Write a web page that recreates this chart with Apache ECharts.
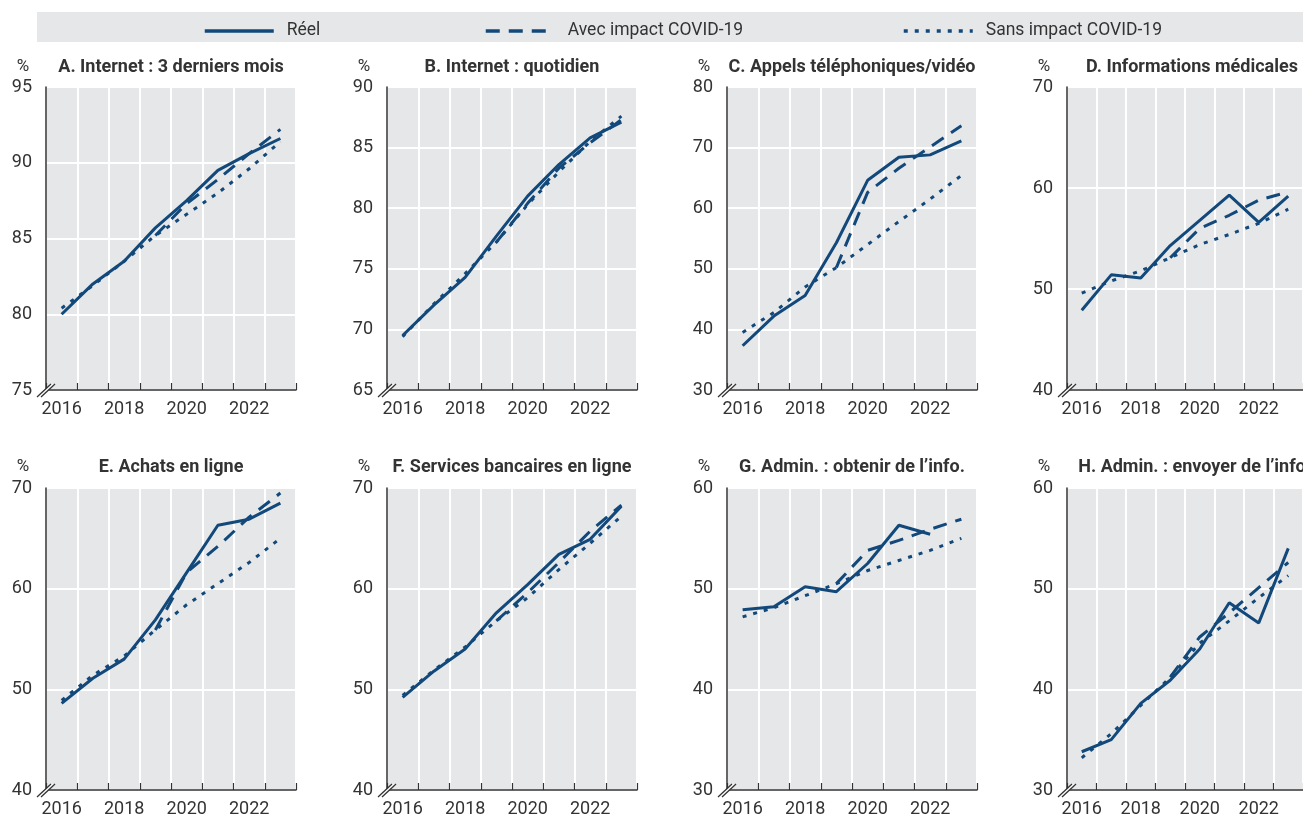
<!DOCTYPE html>
<html><head><meta charset="utf-8">
<script src="https://cdn.jsdelivr.net/npm/echarts@6/dist/echarts.min.js"></script>
<style>html,body{margin:0;padding:0;background:#fff}#c{width:1303px;height:821px}</style>
</head><body><div id="c"></div>
<script>
const years = ['2016','2017','2018','2019','2020','2021','2022','2023'];
const panelTitles = ['A. Internet : 3 derniers mois','B. Internet : quotidien','C. Appels téléphoniques/vidéo','D. Informations médicales',
  'E. Achats en ligne','F. Services bancaires en ligne','G. Admin. : obtenir de l\u2019info.','H. Admin. : envoyer de l\u2019info'];
const yMin = [75,65,30,40,40,40,30,30];
const yMax = [95,90,80,70,70,70,60,60];
const yStep = [5,5,10,10,10,10,10,10];
const seriesNames = ['Réel','Avec impact COVID-19','Sans impact COVID-19'];

const reelA = [80.0,82.0,83.5,85.7,87.5,89.5,90.6,91.6];
const avecA = [null,null,null,85.2,87.3,88.9,90.6,92.2];
const sansA = [80.4,81.9,83.5,85.2,86.6,88.0,89.6,91.4];

const reelB = [69.5,72.0,74.3,77.7,81.0,83.6,85.8,87.1];
const avecB = [null,null,null,77.2,80.4,83.3,85.4,87.3];
const sansB = [69.4,72.1,74.6,77.2,80.3,83.0,85.5,87.6];

const reelC = [37.3,42.2,45.6,54.3,64.6,68.4,68.8,71.1];
const avecC = [null,null,null,50.2,62.6,66.6,70.1,73.6];
const sansC = [39.5,42.8,47.0,50.2,54.0,57.8,61.5,65.4];

const reelD = [47.9,51.4,51.1,54.3,56.8,59.3,56.6,59.2];
const avecD = [null,null,null,53.1,56.0,57.3,58.8,59.6];
const sansD = [49.6,50.8,51.8,53.1,54.4,55.4,56.5,57.9];

const reelE = [48.6,51.1,53.0,56.9,61.6,66.3,66.9,68.5];
const avecE = [null,null,null,55.9,61.6,64.2,67.1,69.5];
const sansE = [48.9,51.4,53.3,55.9,58.4,60.5,62.6,65.0];

const reelF = [49.2,51.8,54.0,57.6,60.4,63.4,64.9,68.2];
const avecF = [null,null,null,56.8,59.6,62.6,65.7,68.3];
const sansF = [49.4,51.9,54.2,56.8,59.1,61.9,64.5,67.2];

const reelG = [47.9,48.2,50.2,49.7,52.5,56.3,55.4,null];
const avecG = [null,null,null,50.5,53.8,54.8,55.9,56.9];
const sansG = [47.2,48.1,49.3,50.5,51.8,52.8,53.8,55.0];

const reelH = [33.8,35.0,38.6,40.9,44.0,48.6,46.6,54.0];
const avecH = [null,null,null,41.2,45.2,47.6,50.1,52.6];
const sansH = [33.2,35.6,38.4,41.2,44.6,46.8,49.1,51.3];

const panelData = [
  [reelA,avecA,sansA],[reelB,avecB,sansB],[reelC,avecC,sansC],[reelD,avecD,sansD],
  [reelE,avecE,sansE],[reelF,avecF,sansF],[reelG,avecG,sansG],[reelH,avecH,sansH]
];

const FONT = "'Roboto',sans-serif";
const COLOR = '#12497a';
const TXT = '#333';
const lefts = [46,387,727,1067];
const tops = [87,488];
const heights = [303,302];
const W = 250;

const grids=[], xAxes=[], yAxes=[], series=[], graphics=[];
graphics.push({type:'rect', shape:{x:37,y:12,width:1300,height:30}, style:{fill:'#e6e7e9'}, z:-10});

for (let i=0;i<8;i++){
  const col=i%4, row=Math.floor(i/4);
  const L=lefts[col], T=tops[row], H=heights[row];
  grids.push({left:L, top:T, width:W, height:H, show:true, backgroundColor:'#e6e7e9', borderWidth:0, containLabel:false});
  xAxes.push({type:'category', gridIndex:i, data:years, boundaryGap:true,
    axisLine:{lineStyle:{color:TXT,width:1.5}},
    axisTick:{show:true, inside:true, length:7, interval:0, lineStyle:{color:TXT,width:1.2}},
    axisLabel:{interval:1, margin:10, fontSize:18, color:TXT, fontFamily:FONT},
    splitLine:{show:true, interval:0, lineStyle:{color:'#ffffff', width:2}}
  });
  yAxes.push({type:'value', gridIndex:i, min:yMin[i], max:yMax[i], interval:yStep[i],
    axisLine:{show:true, lineStyle:{color:TXT,width:1.5}},
    axisTick:{show:false},
    axisLabel:{margin:14, fontSize:18, color:TXT, fontFamily:FONT},
    splitLine:{show:true, lineStyle:{color:'#ffffff', width:2}}
  });
  const d = panelData[i];
  const dashes = ['solid', [14,9], [4,7]];
  for (let s=2;s>=0;s--){
    series.push({type:'line', name:seriesNames[s], xAxisIndex:i, yAxisIndex:i, data:d[s],
      symbol:'none', connectNulls:false, z: 3+(2-s),
      lineStyle:{color:COLOR, width:3, type:dashes[s], cap:'butt'},
      itemStyle:{color:COLOR}});
  }
  const ty = row===0 ? 67 : 467;
  graphics.push({type:'text', x:L+W/2, y:ty, style:{text:panelTitles[i], fill:TXT, font:"bold 18px "+FONT, textAlign:'center', textVerticalAlign:'middle'}});
  graphics.push({type:'text', x:L-23, y:ty, style:{text:'%', fill:TXT, font:"17px "+FONT, textAlign:'center', textVerticalAlign:'middle'}});
  const B=T+H;
  graphics.push({type:'polygon', shape:{points:[[L-9,B+7],[L+5,B-6],[L+9,B-6],[L-5,B+7]]}, style:{fill:'#ffffff'}, z:50});
  graphics.push({type:'line', shape:{x1:L-9,y1:B+7,x2:L+5,y2:B-6}, style:{stroke:TXT,lineWidth:1.3}, z:51});
  graphics.push({type:'line', shape:{x1:L-5,y1:B+7,x2:L+9,y2:B-6}, style:{stroke:TXT,lineWidth:1.3}, z:51});
}

const legendBase = {top:17, itemWidth:69, itemHeight:20,
  itemStyle:{opacity:0},
  lineStyle:{width:3.5},
  textStyle:{fontSize:17.5, color:TXT, fontFamily:FONT, padding:[0,0,0,8]}, selectedMode:false};
const legends = [
  Object.assign({}, legendBase, {left:198, data:[seriesNames[0]]}),
  Object.assign({}, legendBase, {left:479, data:[seriesNames[1]]}),
  Object.assign({}, legendBase, {left:897, data:[seriesNames[2]]})
];

const chart = echarts.init(document.getElementById('c'), null, {renderer:'canvas'});
chart.setOption({
  animation:false,
  backgroundColor:'#ffffff',
  legend:legends,
  grid:grids, xAxis:xAxes, yAxis:yAxes, series:series,
  graphic:graphics
});
</script></body></html>
